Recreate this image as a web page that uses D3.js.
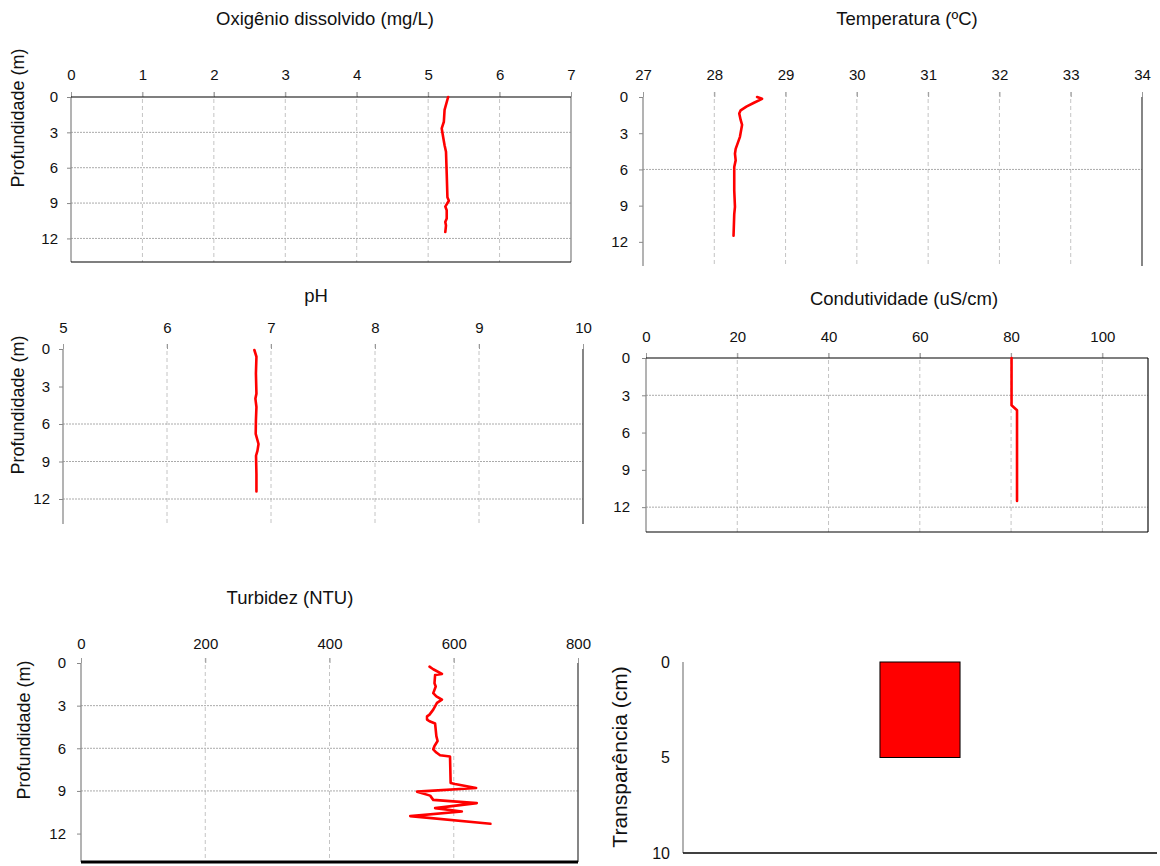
<!DOCTYPE html>
<html>
<head>
<meta charset="utf-8">
<script src="https://cdn.jsdelivr.net/npm/d3@7"></script>
<style>
  body { margin: 0; background: #fff; }
  svg text { font-family: "Liberation Sans", Arial, sans-serif; fill: #111; }
</style>
</head>
<body>
<svg id="chart" width="1160" height="866"></svg>
<script>
// ---------------- DATA ----------------
const depthTicks = [0, 3, 6, 9, 12];

const odTicks = [0, 1, 2, 3, 4, 5, 6, 7];
const odDepth = [0, 1.1, 2.1, 2.67, 3.4, 4.1, 4.65, 6.5, 8.5, 8.8, 9.3, 9.6, 10.3, 10.6, 10.9, 11.46];
const odValue = [5.28, 5.23, 5.22, 5.19, 5.21, 5.23, 5.25, 5.26, 5.27, 5.29, 5.24, 5.26, 5.26, 5.24, 5.25, 5.24];

const tempTicks = [27, 28, 29, 30, 31, 32, 33, 34];
const tempDepth = [0, 0.15, 0.5, 0.8, 1.1, 1.36, 1.9, 2.3, 3.3, 4.3, 4.7, 5.25, 5.8, 7.75, 9.1, 9.7, 11.5];
const tempValue = [28.6, 28.67, 28.55, 28.45, 28.37, 28.35, 28.37, 28.39, 28.36, 28.30, 28.29, 28.30, 28.28, 28.28, 28.29, 28.28, 28.27];

const phTicks = [5, 6, 7, 8, 9, 10];
const phDepth = [0.08, 0.62, 1.96, 3.57, 3.97, 4.64, 5.72, 6.79, 7.6, 8.13, 8.54, 10.0, 11.4];
const phValue = [6.84, 6.86, 6.855, 6.86, 6.85, 6.86, 6.855, 6.853, 6.88, 6.87, 6.856, 6.86, 6.86];

const condTicks = [0, 20, 40, 60, 80, 100];
const condDepth = [0, 3.8, 4.2, 11.5];
const condValue = [80.1, 80.1, 81.3, 81.3];

const turbTicks = [0, 200, 400, 600, 800];
const turbDepth = [0.26, 0.44, 0.77, 0.84, 1.42, 1.65, 2.12, 2.35, 2.58, 2.81, 3.28, 3.63, 3.75, 3.98, 4.1, 4.26, 5.14, 5.49, 5.84, 6.07, 6.3, 6.49, 6.58, 8.44, 8.51, 8.79, 9.05, 9.33, 9.63, 9.86, 10.21, 10.45, 10.77, 11.31];
const turbValue = [561, 567, 581, 570, 569, 571, 567, 572, 581, 573, 567, 561, 557, 557, 561, 570, 572, 574, 569, 567, 572, 578, 594, 595, 602, 636, 541, 562, 567, 637, 570, 613, 530, 659];

const transCategories = ["Transparência"];
const transValues = [5];
const transTicks = [0, 5, 10];

// ---------------- DRAW ----------------
const svg = d3.select("#chart");
const FONT = '"Liberation Sans", Arial, sans-serif';

function profilePanel(c) {
  const g = svg.append("g");
  const x = d3.scaleLinear().domain(c.xDomain).range(c.xRange);
  const y = d3.scaleLinear().domain([0, 14]).range(c.yRange);
  const [x0, x1] = c.xRange, [y0, y1] = c.yRange;

  // vertical gridlines
  g.selectAll(".vg").data(c.vGrid).join("line")
    .attr("x1", d => x(d)).attr("x2", d => x(d))
    .attr("y1", y0 - 5).attr("y2", y1)
    .attr("stroke", "#c4c4c4").attr("stroke-width", 1).attr("stroke-dasharray", "4,3");
  // horizontal gridlines
  g.selectAll(".hg").data(c.hGrid).join("line")
    .attr("x1", x0).attr("x2", x1)
    .attr("y1", d => y(d)).attr("y2", d => y(d))
    .attr("stroke", "#aaaaaa").attr("stroke-width", 1).attr("stroke-dasharray", "2,1");

  // top x axis (tick labels + tick marks)
  const xa = d3.axisTop(x).tickValues(c.xTicks).tickSize(5).tickPadding(c.xPad || 12).tickFormat(d3.format("d"));
  const gx = g.append("g").attr("transform", `translate(0,${y0})`).call(xa);
  gx.select(".domain").remove();
  gx.selectAll(".tick line").attr("stroke", "#999");
  gx.selectAll(".tick text").attr("font-size", 15).attr("fill", "#111").style("font-family", FONT);

  // left y axis
  const ya = d3.axisLeft(y).tickValues(depthTicks).tickSize(4).tickPadding(c.yPad || 9).tickFormat(d3.format("d"));
  const gy = g.append("g").attr("transform", `translate(${x0},0)`).call(ya);
  gy.select(".domain").remove();
  gy.selectAll(".tick line").attr("stroke", "#888");
  gy.selectAll(".tick text").attr("font-size", 15).attr("fill", "#111").style("font-family", FONT);

  // frame
  g.append("line").attr("x1", x0).attr("x2", x0).attr("y1", y0).attr("y2", y1)
    .attr("stroke", "#8a8a8a").attr("stroke-width", 1.3);
  g.append("line").attr("x1", x1).attr("x2", x1).attr("y1", y0).attr("y2", y1)
    .attr("stroke", c.rightColor || "#555").attr("stroke-width", 1.3);
  if (c.topLine) g.append("line").attr("x1", x0).attr("x2", x1).attr("y1", y0).attr("y2", y0)
    .attr("stroke", "#000").attr("stroke-width", 1.2);
  if (c.bottomLine) g.append("line").attr("x1", x0).attr("x2", x1).attr("y1", y1).attr("y2", y1)
    .attr("stroke", "#000").attr("stroke-width", c.bottomWidth || 1.2);

  // data line
  const pts = c.depths.map((d, i) => [c.values[i], d]);
  g.append("path").datum(pts)
    .attr("fill", "none").attr("stroke", "#ff0000").attr("stroke-width", 2.6)
    .attr("stroke-linejoin", "round").attr("stroke-linecap", "round")
    .attr("d", d3.line().x(p => x(p[0])).y(p => y(p[1])));

  // title
  g.append("text").attr("x", c.titleX).attr("y", c.titleY).attr("text-anchor", "middle")
    .attr("font-size", 18.5).text(c.title);

  if (c.yTitle) {
    g.append("text")
      .attr("transform", `translate(${c.yTitleX},${c.yTitleY}) rotate(-90)`)
      .attr("text-anchor", "middle").attr("font-size", 18).text(c.yTitle);
  }
}

profilePanel({
  xDomain: [0, 7], xRange: [71, 571], yRange: [97, 262], xTicks: odTicks,
  vGrid: [1, 2, 3, 4, 5, 6], hGrid: [3, 6, 9, 12],
  depths: odDepth, values: odValue, topLine: true, bottomLine: true, rightColor: "#888",
  title: "Oxigênio dissolvido (mg/L)", titleX: 325, titleY: 25,
  yTitle: "Profundidade (m)", yTitleX: 24, yTitleY: 118
});

profilePanel({
  xDomain: [27, 34], xRange: [643, 1142], yRange: [97, 266], xTicks: tempTicks,
  vGrid: [28, 29, 30, 31, 32, 33], hGrid: [6],
  depths: tempDepth, values: tempValue, topLine: false, bottomLine: false, rightColor: "#444",
  title: "Temperatura (ºC)", titleX: 907, titleY: 25, yPad: 11
});

profilePanel({
  xDomain: [5, 10], xRange: [63, 583], yRange: [349, 524], xTicks: phTicks,
  vGrid: [6, 7, 8, 9], hGrid: [6, 9, 12],
  depths: phDepth, values: phValue, topLine: false, bottomLine: false, rightColor: "#444",
  title: "pH", titleX: 316, titleY: 302, xPad: 11,
  yTitle: "Profundidade (m)", yTitleX: 24, yTitleY: 405
});

profilePanel({
  xDomain: [0, 110], xRange: [646, 1148], yRange: [358, 532], xTicks: condTicks,
  vGrid: [20, 40, 60, 80, 100], hGrid: [3, 12],
  depths: condDepth, values: condValue, topLine: true, bottomLine: true, rightColor: "#222",
  title: "Condutividade (uS/cm)", titleX: 904, titleY: 305, xPad: 11, yPad: 12
});

profilePanel({
  xDomain: [0, 800], xRange: [81, 578], yRange: [663, 862], xTicks: turbTicks,
  vGrid: [200, 400, 600], hGrid: [3, 6, 9],
  depths: turbDepth, values: turbValue, topLine: false, bottomLine: true, bottomWidth: 3, rightColor: "#444",
  title: "Turbidez (NTU)", titleX: 290, titleY: 604, xPad: 9, yPad: 11,
  yTitle: "Profundidade (m)", yTitleX: 30, yTitleY: 730
});

// Transparency bar panel
(function () {
  const g = svg.append("g");
  const x = d3.scaleBand().domain(transCategories).range([683, 1157]).paddingInner(0.5).paddingOuter(1.23);
  const y = d3.scaleLinear().domain([0, 10]).range([662, 853]);

  g.selectAll("rect").data(transValues).join("rect")
    .attr("x", (d, i) => x(transCategories[i]))
    .attr("width", x.bandwidth())
    .attr("y", y(0)).attr("height", d => y(d) - y(0))
    .attr("fill", "#ff0000").attr("stroke", "#000").attr("stroke-width", 1);

  const ya = d3.axisLeft(y).tickValues(transTicks).tickSize(0).tickPadding(13).tickFormat(d3.format("d"));
  const gy = g.append("g").attr("transform", "translate(683,0)").call(ya);
  gy.select(".domain").remove();
  gy.selectAll(".tick text").attr("font-size", 16).attr("fill", "#111").style("font-family", FONT);

  g.append("line").attr("x1", 683).attr("x2", 683).attr("y1", 662).attr("y2", 853)
    .attr("stroke", "#888").attr("stroke-width", 1.3);
  g.append("line").attr("x1", 683).attr("x2", 1157).attr("y1", 853).attr("y2", 853)
    .attr("stroke", "#000").attr("stroke-width", 1.3);

  g.append("text").attr("transform", "translate(627,757) rotate(-90)")
    .attr("text-anchor", "middle").attr("font-size", 21).text("Transparência (cm)");
})();
</script>
</body>
</html>
